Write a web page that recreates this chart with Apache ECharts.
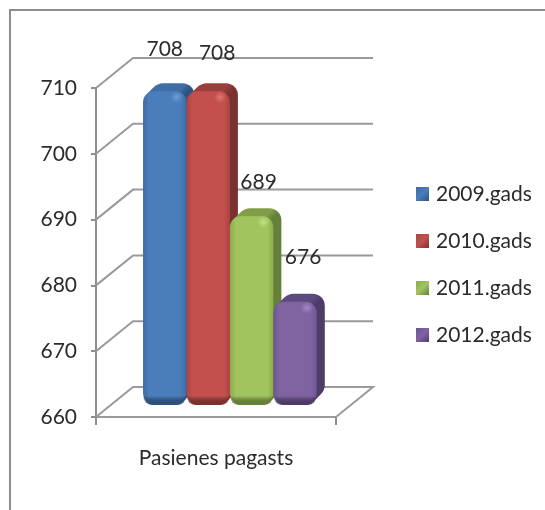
<!DOCTYPE html>
<html><head><meta charset="utf-8">
<style>html,body{margin:0;padding:0;background:#fff}#c{width:545px;height:510px}</style>
<script src="https://cdn.jsdelivr.net/npm/echarts@6/dist/echarts.min.js"></script>
</head><body><div id="c"></div>
<script>
const categories = ['Pasienes pagasts'];
const seriesNames = ['2009.gads', '2010.gads', '2011.gads', '2012.gads'];
const values2009 = [708];
const values2010 = [708];
const values2011 = [689];
const values2012 = [676];
const yTicks = [660, 670, 680, 690, 700, 710];

const FONT = 'Lato';
const GREY = '#8e8e8e';
const palettes = [
  {main:'#4a7ebb', edge:'#3c6ba3', top:'#3f6da4', side:'#2f5380', hi:'#6fa0d8', low:'#2c5687'},
  {main:'#c4504d', edge:'#a84542', top:'#99403d', side:'#7a3230', hi:'#e07a77', low:'#803230'},
  {main:'#a2c45f', edge:'#8cab50', top:'#7f9e47', side:'#64803a', hi:'#c6e38c', low:'#6b8a3a'},
  {main:'#8064a2', edge:'#6d5590', top:'#5f4a80', side:'#4d3c69', hi:'#a68cc8', low:'#4f3b6d'}
];
const labelShift = [[0,-41],[9,-37],[7,-33],[8,-43]];

const hGrad = (stops) => new echarts.graphic.LinearGradient(0,0,1,0,stops);
const vGrad = (stops) => new echarts.graphic.LinearGradient(0,0,0,1,stops);

function barRender(idx){
  return function(params, api){
    const v = api.value(1);
    const band = api.size([1,0])[0];
    const center = api.coord([0, v])[0];
    const lift = 12;
    const base = api.coord([0, 660])[1] - lift;
    const top = api.coord([0, v])[1] - lift + 2;
    const w = band * 0.181;
    const x = center - band * 0.304 + idx * w;
    const p = palettes[idx];
    const depth = 8;
    const kids = [];
    for (let d = depth; d >= 1; d--) {
      kids.push({type:'rect', shape:{x:x+d, y:top-d, width:w, height:base-top, r:[12,12,12,12]},
        style:{fill:hGrad([{offset:0,color:p.top},{offset:0.8,color:p.top},{offset:0.93,color:p.side},{offset:1,color:p.side}])}});
    }
    kids.push({type:'rect', shape:{x:x, y:top, width:w, height:base-top, r:[11,11,12,12]},
      style:{fill:hGrad([{offset:0,color:p.edge},{offset:0.14,color:p.main},{offset:0.86,color:p.main},{offset:1,color:p.edge}])}});
    kids.push({type:'rect', shape:{x:x, y:base-9, width:w, height:9, r:[0,0,12,12]},
      style:{fill:vGrad([{offset:0,color:'rgba(0,0,0,0)'},{offset:1,color:p.low}])}});
    kids.push({type:'circle', shape:{cx:x+w-10, cy:top+6, r:6},
      style:{fill:new echarts.graphic.RadialGradient(0.5,0.5,0.5,[{offset:0,color:p.hi},{offset:1,color:p.main}]), opacity:0.9}});
    kids.push({type:'text', style:{text:String(v), x:x + w/2 + labelShift[idx][0],
      y:top-1+labelShift[idx][1], align:'center', verticalAlign:'middle', fill:'#2b2b2b', font:'21px '+FONT}});
    return {type:'group', children:kids};
  };
}

function wallRender(params, api){
  const v = api.value(0);
  const a = api.coord([0, v]);
  const band = api.size([1,0])[0];
  const x0 = a[0]-band/2, y0 = a[1];
  const dx = 37, dy = -30;
  const pts = [[x0,y0],[x0+dx,y0+dy],[x0+dx+band,y0+dy]];
  if (v === yTicks[0]) pts.push([x0+band,y0]);
  return {type:'polyline', shape:{points:pts}, style:{fill:'none', stroke:'#9a9a9a', lineWidth:2}};
}

const barData = [values2009, values2010, values2011, values2012];
const barSeries = seriesNames.map((n,i)=>({
  name:n, type:'custom', coordinateSystem:'cartesian2d', z:5,
  itemStyle:{color:palettes[i].main},
  renderItem:barRender(i), encode:{x:0,y:1}, clip:false,
  data:barData[i].map((v,k)=>[k,v])
}));

const chart = echarts.init(document.getElementById('c'), null, {renderer:'canvas'});
chart.setOption({
  animation:false,
  backgroundColor:'#ffffff',
  graphic:[{type:'polyline', shape:{points:[[10,510],[10,10],[545,10]]},
    style:{fill:'none', stroke:'#8c8c8c', lineWidth:2}, silent:true}],
  grid:{left:96, top:88, width:240, height:329},
  xAxis:{type:'category', data:categories,
    axisLine:{lineStyle:{color:'#9a9a9a', width:2}},
    axisTick:{show:true, length:8, lineStyle:{color:GREY, width:2}},
    axisLabel:{color:'#2b2b2b', fontFamily:FONT, fontSize:21, margin:31}},
  yAxis:{type:'value', min:660, max:710, interval:10,
    axisLine:{show:true, lineStyle:{color:GREY, width:2}},
    axisTick:{show:true, length:5, lineStyle:{color:GREY, width:2}},
    splitLine:{show:false},
    axisLabel:{color:'#2b2b2b', fontFamily:FONT, fontSize:21, margin:19, padding:[5,0,0,0]}},
  legend:{orient:'vertical', left:411, top:177, itemWidth:13, itemHeight:14, itemGap:23,
    textStyle:{color:'#2b2b2b', fontFamily:FONT, fontSize:21, padding:[0,0,0,2], lineHeight:24, height:24},
    data:seriesNames.map((n,i)=>({name:n, icon:'rect',
      itemStyle:{color:new echarts.graphic.LinearGradient(0,0,1,1,[
        {offset:0,color:palettes[i].edge},{offset:0.5,color:palettes[i].main},{offset:1,color:palettes[i].side}])}}))},
  series:[{name:'wall', type:'custom', coordinateSystem:'cartesian2d', z:1, clip:false,
    renderItem:wallRender, encode:{y:0}, data:yTicks.map(v=>[v])}].concat(barSeries)
});
</script></body></html>
